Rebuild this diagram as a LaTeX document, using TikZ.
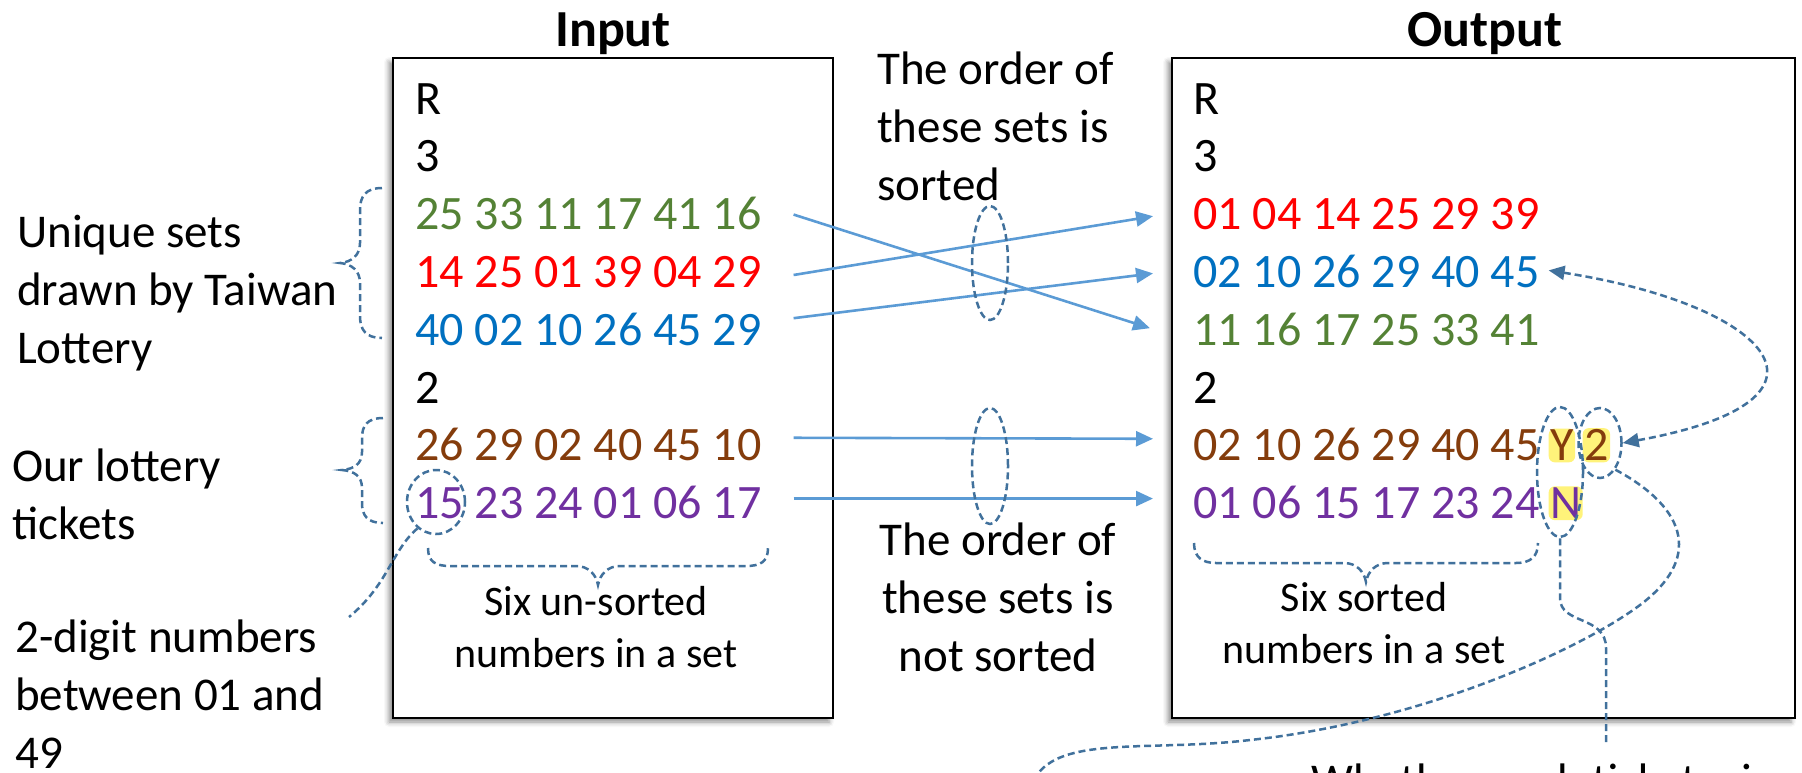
\documentclass[tikz,border=0pt]{standalone}
\usepackage{fontspec}
\setmainfont{Carlito}
\usetikzlibrary{shapes.geometric,arrows.meta,shadows.blur,calc}
\definecolor{cgreen}{HTML}{548235}
\definecolor{cred}{HTML}{FF0000}
\definecolor{cblue}{HTML}{0070C0}
\definecolor{cbrown}{HTML}{843C0C}
\definecolor{cpurple}{HTML}{7030A0}
\definecolor{arrowblue}{HTML}{5B9BD5}
\definecolor{dashblue}{HTML}{41719C}
\definecolor{glow}{HTML}{FFF37A}
\begin{document}
\begin{tikzpicture}[x=1pt,y=-1pt,
  box/.style={draw=black, line width=2.6pt, fill=white, inner sep=0pt,
    blur shadow={shadow xshift=-4pt, shadow yshift=-4pt, shadow blur radius=5pt, shadow opacity=45}},
  titletext/.style={inner sep=0pt, anchor=base, font=\fontsize{52}{62}\selectfont\bfseries},
  row/.style={inner sep=0pt, anchor=base west, font=\fontsize{48}{58}\selectfont},
  lab/.style={inner sep=0pt, anchor=base west, align=left, font=\fontsize{47}{58}\selectfont},
  smalllab/.style={inner sep=0pt, anchor=base, align=center, font=\fontsize{42}{52}\selectfont},
  dashc/.style={draw=dashblue, line width=2.5pt, dash pattern=on 7pt off 4pt},
  dell/.style={ellipse, dashc, inner sep=0pt, fill=none},
  solidarrow/.style={draw=arrowblue, line width=2.6pt, -{Triangle[length=17pt,width=15pt]}},
  hl/.style={fill=glow, rounded corners=6pt, inner sep=1.5pt, anchor=base west, font=\fontsize{48}{58}\selectfont}
]
\useasboundingbox (0,0) rectangle (1802,772);
\clip (0,0) rectangle (1802,772);

% boxes
\node[box, minimum width=440pt, minimum height=660pt] (inbox) at (613,388) {};
\node[box, minimum width=623pt, minimum height=660pt] (outbox) at (1483.5,388) {};

% titles
\node[titletext] (tin) at (613,46) {Input};
\node[titletext] (tout) at (1485,46) {Output};

% input rows
\node[row] (iR) at (415,114) {R};
\node[row] (i3) at (415,171.8) {3};
\node[row, text=cgreen] (iG) at (415,229.6) {25 33 11 17 41 16};
\node[row, text=cred] (iRd) at (415,287.4) {14 25 01 39 04 29};
\node[row, text=cblue] (iB) at (415,345.2) {40 02 10 26 45 29};
\node[row] (i2) at (415,403) {2};
\node[row, text=cbrown] (iBr) at (415,460.8) {26 29 02 40 45 10};
\node[row, text=cpurple] (iP) at (415,518.6) {15 23 24 01 06 17};

% output rows
\node[row] (oR) at (1193,114) {R};
\node[row] (o3) at (1193,171.8) {3};
\node[row, text=cred] (oRd) at (1193,229.6) {01 04 14 25 29 39};
\node[row, text=cblue] (oB) at (1193,287.4) {02 10 26 29 40 45};
\node[row, text=cgreen] (oG) at (1193,345.2) {11 16 17 25 33 41};
\node[row] (o2) at (1193,403) {2};
\node[row, text=cbrown] (oBr) at (1193,460.8) {02 10 26 29 40 45};
\node[row, text=cpurple] (oP) at (1193,518.6) {01 06 15 17 23 24};
\node[hl, text=cbrown] (oY) at (1548.5,460.8) {Y};
\node[hl, text=cbrown] (oTwo) at (1582.5,460.8) {2};
\node[hl, text=cpurple] (oN) at (1548.5,518.6) {N};

% left labels (anchor = baseline of last line)
\node[lab] (lUnique) at (17,363) {Unique sets\\drawn by Taiwan\\Lottery};
\node[lab] (lOur) at (12,539) {Our lottery\\tickets};
\node[lab] (lDigit) at (15,768) {2-digit numbers\\between 01 and\\49};

% middle texts
\node[lab] (mTop) at (877,200) {The order of\\these sets is\\sorted};
\node[lab, align=center, anchor=base] (mBot) at (998,671) {The order of\\these sets is\\not sorted};

% under-box texts
\node[smalllab] (sIn) at (596,667) {Six un-sorted\\numbers in a set};
\node[smalllab] (sOut) at (1364,663) {Six sorted\\numbers in a set};

% bottom text (cut off by the picture's lower edge)
\node[lab] (whether) at (1311,796) {Whether each ticket wins};

% solid arrows
\draw[solidarrow] ($(iG.east)+(32,1)$) -- ($(oG.west)+(-43,-1)$);
\draw[solidarrow] ($(iRd.east)+(32,3)$) -- ($(oRd.west)+(-40,2)$);
\draw[solidarrow] ($(iB.east)+(32,-11)$) -- ($(oB.west)+(-40,2)$);
\draw[solidarrow] ($(iBr.east)+(32,-7)$) -- ($(oBr.west)+(-40,-6)$);
\draw[solidarrow] ($(iP.east)+(32,-4)$) -- ($(oP.west)+(-40,-4)$);

% dashed ellipses
\node[dell, minimum width=36pt, minimum height=114pt] (eTop) at (990,263) {};
\node[dell, minimum width=36pt, minimum height=116pt] (eBot) at (990,466) {};
\node[dell, minimum width=58pt, minimum height=64pt] (e15) at (436,502) {};
\node[dell, minimum width=46pt, minimum height=130pt] (eYN) at (1560,472) {};
\node[dell, minimum width=43pt, minimum height=70pt] (eTwo) at (1600,443) {};

% braces
\draw[dashc] (382,188) .. controls (366,188) and (360,196) .. (360,210) -- (360,243)
  .. controls (360,255) and (352,262) .. (340,263) .. controls (352,264) and (360,271) .. (360,283)
  -- (360,316) .. controls (360,330) and (366,338) .. (382,338);
\draw[dashc] (383,418) .. controls (367,418) and (362,426) .. (362,438) -- (362,452)
  .. controls (362,464) and (354,469) .. (342,470) .. controls (354,471) and (362,476) .. (362,488)
  -- (362,503) .. controls (362,515) and (367,523) .. (383,523);
\draw[dashc] (428,548) .. controls (428,562) and (436,566) .. (450,566) -- (576,566)
  .. controls (588,566) and (596,574) .. (598,585) .. controls (600,574) and (608,566) .. (620,566)
  -- (746,566) .. controls (760,566) and (768,562) .. (768,548);
\draw[dashc] (1194,543) .. controls (1194,557) and (1202,563) .. (1216,563) -- (1344,563)
  .. controls (1356,563) and (1364,571) .. (1366,582) .. controls (1368,571) and (1376,563) .. (1388,563)
  -- (1516,563) .. controls (1530,563) and (1538,557) .. (1538,543);

% dashed connectors
\coordinate (cDigit) at (349,617);
\coordinate (cWh) at (1606,745);
\coordinate (cOff) at (1035,778);
\draw[dashc] (e15.235) .. controls (392,550) and (388,585) .. (cDigit);
\draw[dashc] (eYN.south) -- (1560,598) .. controls (1560,625) and (1606,615) .. (1606,648) -- (cWh);
\draw[dashc] (eTwo.-60) .. controls (1690,510) and (1700,560) .. (1640,605)
  .. controls (1580,650) and (1420,722) .. (1250,740)
  .. controls (1150,752) and (1060,735) .. (cOff);
\draw[dashc, {Triangle[length=16pt,width=14pt]}-{Triangle[length=16pt,width=14pt]}]
  ($(oB.east)+(9,-1)$) .. controls (1770,305) and (1860,400) .. (eTwo.east);
\end{tikzpicture}
\end{document}
